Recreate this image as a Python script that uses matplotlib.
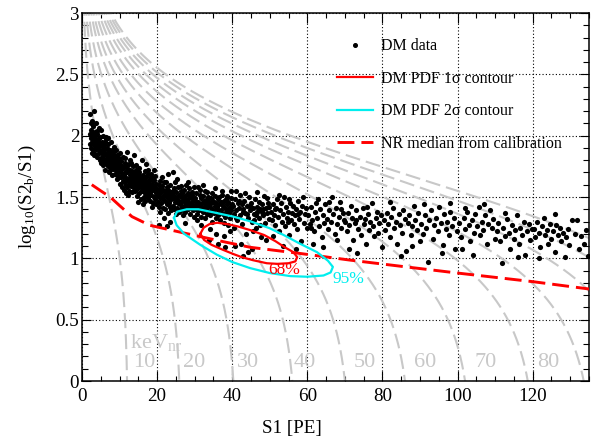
import numpy as np
import matplotlib
matplotlib.use("Agg")
import matplotlib.pyplot as plt
from matplotlib.lines import Line2D
from matplotlib.ticker import MultipleLocator

plt.rcParams['font.family'] = ['Liberation Serif', 'DejaVu Serif']
plt.rcParams['mathtext.fontset'] = 'custom'
plt.rcParams['mathtext.rm'] = 'Liberation Serif'
plt.rcParams['mathtext.it'] = 'Liberation Serif:italic'

# ---------------- data ----------------
DM_POINTS = """
2.1,2.18 2.3,2.05 2.4,1.98 2.2,1.93 2.6,2.12 2.5,1.90 2.8,2.02 2.7,1.95 3.0,2.08 2.9,1.88 3.1,1.99 3.3,2.20
3.2,1.92 3.4,1.85 3.5,2.03 3.6,1.96 3.8,1.89 3.7,2.10 3.9,1.94 4.0,1.83 4.1,2.01 4.2,1.91 4.3,1.97 4.4,1.86
4.5,2.06 4.6,1.88 4.7,1.93 4.8,1.80 4.9,1.99 5.0,1.87 2.4,2.10 2.9,1.97 3.4,1.95 3.6,1.90 4.1,1.95 4.4,1.92
2.7,1.86 3.1,1.84 3.9,2.04 4.8,1.94 2.2,2.01 3.3,2.00 4.6,1.98 5.0,1.92
5.1,1.78 5.2,1.95 5.3,1.88 5.4,1.83 5.5,2.00 5.6,1.91 5.7,1.76 5.8,1.86 5.9,1.93 6.0,1.80 6.1,1.89 6.2,1.72
6.3,1.97 6.4,1.84 6.5,1.78 6.6,1.90 6.7,1.82 6.8,1.75 6.9,1.87 7.0,1.93 7.1,1.79 7.2,1.70 7.3,1.85 7.4,1.81
7.5,1.88 7.6,1.74 7.7,1.83 7.8,1.95 7.9,1.77 8.0,1.68 8.1,1.86 8.2,1.80 8.3,1.73 8.4,1.90 8.5,1.78 8.6,1.84
8.7,1.69 8.8,1.76 8.9,1.82 9.0,1.88 9.1,1.72 9.2,1.79 9.3,1.65 9.4,1.84 9.5,1.75 9.6,1.70 9.7,1.81 9.8,1.77
9.9,1.66 10.0,1.86 5.3,1.81 5.8,1.79 6.2,1.93 6.6,1.77 7.1,1.86 7.5,1.72 8.0,1.81 8.4,1.76 8.9,1.74 9.4,1.68
5.6,1.85 6.9,1.80 7.8,1.79 8.6,1.91 9.7,1.73 6.4,1.99 7.3,1.77 9.1,1.83 5.0,2.05 6.0,1.95 7.0,1.98 8.2,1.87 9.8,1.82
10.1,1.72 10.2,1.61 10.3,1.79 10.5,1.66 10.6,1.75 10.7,1.58 10.8,1.69 10.9,1.83 10.4,1.70 10.95,1.63 10.25,1.76 10.65,1.68
11.0,1.74 11.1,1.62 11.2,1.69 11.3,1.56 11.4,1.78 11.5,1.66 11.6,1.71 11.7,1.60 11.8,1.75 11.9,1.64 11.45,1.82 11.25,1.67
12.0,1.70 12.1,1.58 12.2,1.65 12.3,1.73 12.4,1.61 12.5,1.77 12.6,1.55 12.7,1.68 12.8,1.63 12.9,1.72 12.35,1.52 12.65,1.80
13.0,1.66 13.1,1.59 13.2,1.71 13.3,1.64 13.4,1.54 13.5,1.69 13.6,1.75 13.7,1.61 13.8,1.57 13.9,1.67 13.45,1.62 13.15,1.78
14.0,1.60 14.1,1.69 14.2,1.55 14.3,1.65 14.4,1.72 14.5,1.58 14.6,1.63 14.7,1.51 14.8,1.68 14.9,1.61 14.35,1.76 14.55,1.66
15.0,1.57 15.1,1.64 15.2,1.70 15.3,1.53 15.4,1.62 15.5,1.67 15.6,1.59 15.7,1.48 15.8,1.65 15.9,1.56 15.25,1.74 15.75,1.61
16.0,1.63 16.1,1.55 16.2,1.68 16.3,1.59 16.4,1.50 16.5,1.64 16.6,1.57 16.7,1.71 16.8,1.53 16.9,1.61 16.35,1.66 16.75,1.47
17.0,1.58 17.1,1.66 17.2,1.52 17.3,1.62 17.4,1.56 17.5,1.69 17.6,1.49 17.7,1.60 17.8,1.54 17.9,1.64 17.45,1.72 17.25,1.57
18.0,1.55 18.1,1.61 18.2,1.47 18.3,1.58 18.4,1.66 18.5,1.52 18.6,1.60 18.7,1.56 18.8,1.45 18.9,1.63 18.45,1.69 18.15,1.53
19.0,1.59 19.1,1.50 19.2,1.56 19.3,1.64 19.4,1.48 19.5,1.57 19.6,1.53 19.7,1.61 19.8,1.44 19.9,1.55 19.35,1.67 19.65,1.51
15.9,1.80 13.8,1.84 17.1,1.77 19.2,1.72 18.6,1.42 16.2,1.44 11.6,1.53 14.9,1.46 11.9,1.87
20.1,1.55 20.2,1.46 20.4,1.60 20.5,1.51 20.6,1.42 20.7,1.57 20.8,1.49 20.9,1.63 20.3,1.53 20.65,1.38
21.0,1.54 21.1,1.45 21.3,1.59 21.4,1.50 21.5,1.41 21.6,1.56 21.7,1.48 21.8,1.62 21.9,1.52 21.25,1.66
22.0,1.47 22.1,1.55 22.2,1.40 22.4,1.51 22.5,1.58 22.6,1.44 22.7,1.53 22.8,1.37 22.9,1.49 22.35,1.62
23.0,1.56 23.1,1.46 23.2,1.52 23.4,1.42 23.5,1.60 23.6,1.48 23.7,1.54 23.8,1.39 23.9,1.50 23.25,1.45
24.0,1.53 24.1,1.43 24.3,1.49 24.4,1.57 24.5,1.40 24.6,1.51 24.7,1.46 24.8,1.62 24.9,1.36 24.25,1.55
25.0,1.48 25.1,1.54 25.2,1.41 25.4,1.50 25.5,1.45 25.6,1.58 25.7,1.38 25.8,1.52 25.9,1.47 25.3,1.65
26.0,1.44 26.1,1.51 26.3,1.39 26.4,1.55 26.5,1.47 26.6,1.42 26.7,1.53 26.8,1.35 26.9,1.49 26.25,1.59
27.0,1.50 27.1,1.43 27.2,1.56 27.4,1.46 27.5,1.38 27.6,1.52 27.7,1.44 27.8,1.60 27.9,1.41 27.35,1.48
28.0,1.47 28.1,1.53 28.3,1.40 28.4,1.49 28.5,1.44 28.6,1.57 28.7,1.36 28.8,1.51 28.9,1.45 28.25,1.62
29.0,1.42 29.1,1.50 29.2,1.46 29.4,1.54 29.5,1.39 29.6,1.48 29.7,1.43 29.8,1.58 29.9,1.34 29.3,1.52
23.0,1.69 24.3,1.70 20.4,1.27 22.6,1.26 23.4,1.30 21.8,1.33 27.5,1.29
30.1,1.47 30.3,1.40 30.4,1.53 30.5,1.36 30.7,1.44 30.8,1.58 30.9,1.42 30.2,1.49 30.6,1.31
31.0,1.46 31.2,1.39 31.3,1.52 31.5,1.43 31.6,1.34 31.7,1.49 31.9,1.41 31.4,1.56 31.8,1.27
32.0,1.45 32.1,1.51 32.3,1.38 32.4,1.47 32.6,1.42 32.7,1.55 32.8,1.33 32.9,1.44 32.2,1.60
33.0,1.40 33.2,1.48 33.3,1.36 33.5,1.50 33.6,1.43 33.7,1.15 33.8,1.46 33.9,1.38 33.4,1.54
34.0,1.44 34.1,1.35 34.3,1.49 34.4,1.41 34.6,1.53 34.7,1.30 34.8,1.46 34.9,1.39 34.2,1.24
35.0,1.47 35.2,1.37 35.3,1.43 35.5,1.51 35.6,1.33 35.7,1.45 35.9,1.40 35.4,1.57 35.8,1.20
36.0,1.42 36.1,1.48 36.3,1.35 36.4,1.44 36.6,1.50 36.7,1.38 36.8,1.31 36.9,1.46 36.2,1.12
37.0,1.39 37.2,1.45 37.3,1.52 37.5,1.36 37.6,1.43 37.7,1.29 37.9,1.47 37.4,1.55 37.8,1.18
38.0,1.41 38.1,1.34 38.3,1.48 38.4,1.38 38.6,1.44 38.7,1.51 38.8,1.27 38.9,1.40 38.2,1.09
39.0,1.46 39.2,1.37 39.3,1.42 39.5,1.33 39.6,1.49 39.7,1.39 39.9,1.44 39.4,1.22 39.8,1.55
40.2,1.43 40.5,1.36 40.8,1.48 41.0,1.39 41.3,1.31 41.5,1.45 41.8,1.41 42.0,1.52 42.2,1.35 42.5,1.44 42.7,1.28
43.0,1.40 43.2,1.47 43.5,1.37 43.7,1.20 44.0,1.43 44.2,1.33 44.5,1.50 44.7,1.39 45.0,1.45 45.2,1.30 45.5,1.41
45.7,1.36 46.0,1.48 46.2,1.25 46.5,1.42 46.7,1.38 47.0,1.33 47.2,1.46 47.5,1.40 47.7,1.17 48.0,1.44 48.2,1.35
48.5,1.51 48.7,1.29 49.0,1.41 49.2,1.37 49.5,1.45 49.7,1.32 40.4,1.25 41.1,1.55 42.4,1.12 43.4,1.53 44.1,1.05
45.6,1.22 46.6,1.54 47.4,1.27 48.9,1.15 49.3,1.49 40.9,1.33 42.9,1.38 44.8,1.43 46.3,1.35 48.3,1.40 41.7,1.47
43.9,1.36 45.9,1.31 47.9,1.38 49.9,1.42 43.0,1.02 45.3,1.08 40.7,1.10
50.2,1.38 50.5,1.31 50.8,1.44 51.1,1.35 51.4,1.27 51.6,1.41 51.9,1.48 52.2,1.34 52.4,1.22 52.7,1.39 53.0,1.45
53.2,1.30 53.5,1.36 53.8,1.50 54.0,1.26 54.3,1.42 54.6,1.33 54.8,1.38 55.1,1.19 55.4,1.45 55.7,1.31 55.9,1.37
56.2,1.43 56.5,1.28 56.8,1.35 57.0,1.40 57.3,1.24 57.6,1.47 57.8,1.32 58.1,1.38 58.4,1.14 58.7,1.43 59.0,1.29
59.3,1.36 59.6,1.41 59.8,1.25 50.9,1.18 53.6,1.10 56.9,1.08 52.5,1.52 55.0,1.48 58.9,1.50 51.3,1.40 54.9,1.30 57.5,1.36
60.2,1.35 60.6,1.28 61.0,1.42 61.3,1.31 61.7,1.22 62.0,1.38 62.4,1.45 62.7,1.33 63.1,1.26 63.4,1.40 63.8,1.17
64.1,1.35 64.5,1.29 64.8,1.44 65.2,1.32 65.5,1.24 65.9,1.39 66.2,1.30 66.6,1.50 66.9,1.36 67.3,1.20 67.6,1.41
68.0,1.28 68.3,1.34 68.7,1.46 69.0,1.25 69.4,1.37 69.7,1.31 61.5,1.12 64.3,1.09 67.9,1.15 62.9,1.48 65.7,1.46
68.9,1.40 60.9,1.25
70.1,1.30 70.5,1.22 70.8,1.37 71.2,1.27 71.5,1.43 71.9,1.33 72.2,1.15 72.6,1.29 72.9,1.39 73.3,1.04 73.6,1.24
74.0,1.34 74.3,1.19 74.7,1.41 75.0,1.28 75.4,1.32 75.7,1.12 76.1,1.36 76.4,1.23 76.8,1.30 77.1,1.45 77.5,1.26
77.8,1.18 78.2,1.33 78.5,1.38 78.9,1.21 79.2,1.29 79.6,1.35 79.9,1.09 71.0,1.08 75.9,1.42 73.0,1.31
80.3,1.31 80.7,1.23 81.1,1.37 81.5,1.28 81.9,1.17 82.3,1.34 82.7,1.41 83.1,1.25 83.5,1.30 83.9,1.12 84.3,1.36
84.7,1.27 85.1,1.21 85.5,1.39 85.9,1.32 86.3,1.06 86.7,1.29 87.1,1.35 87.5,1.19 87.9,1.26 88.3,1.43 88.7,1.31
89.1,1.23 89.5,1.37 89.9,1.14 82.0,1.46 84.9,1.02 88.0,1.10
90.3,1.28 90.8,1.20 91.2,1.35 91.7,1.25 92.1,0.97 92.5,1.31 92.9,1.39 93.4,1.16 93.8,1.27 94.2,1.33 94.7,1.22
95.1,1.42 95.5,1.29 96.0,1.11 96.4,1.36 96.8,1.24 97.3,1.30 97.7,1.19 98.1,1.38 98.6,1.26 99.0,1.33 99.4,1.08
99.8,1.22 91.0,1.44 95.9,1.04 97.9,1.45
100.3,1.29 100.8,1.17 101.2,1.08 101.6,1.33 102.1,1.24 102.5,1.38 103.0,1.27 103.4,1.14 103.8,1.31 104.3,1.21
104.7,1.36 105.2,1.26 105.6,1.42 106.0,1.19 106.5,1.30 106.9,1.23 107.4,1.35 107.8,1.12 108.2,1.28 108.7,1.39
109.1,1.25 109.5,1.32 109.9,1.16 104.0,1.03 107.0,1.44 101.9,1.41
110.4,1.22 110.9,1.29 111.3,1.14 111.8,0.96 112.2,1.25 112.7,1.18 113.1,1.32 113.6,1.21 114.0,1.08 114.5,1.27
114.9,1.16 115.4,1.23 115.8,1.35 116.3,1.12 116.7,1.25 117.2,1.19 117.6,1.30 118.0,1.03 118.5,1.22 118.9,1.28
119.4,1.15 119.8,1.24 112.5,1.37 116.0,1.01
120.3,1.24 120.7,1.17 121.1,1.30 121.6,1.21 122.0,1.09 122.4,1.26 122.9,1.33 123.3,1.19 123.7,1.23 124.2,1.12
124.6,1.28 125.0,1.16 125.5,1.22 125.9,1.05 126.3,1.27 126.8,1.19 127.2,1.25 127.6,1.14 128.1,1.21 128.5,1.01
128.9,1.17 129.4,1.24 129.8,1.11 130.6,1.31 131.2,1.20 131.9,1.31 132.4,1.08 133.0,1.18 133.6,1.12 134.2,1.23
134.7,1.02 126.0,1.36 121.8,1.00
"""
_pairs = np.array([[float(v) for v in tok.split(',')] for tok in DM_POINTS.split()])
dm_s1 = _pairs[:, 0]
dm_logratio = _pairs[:, 1]

# 1 sigma (68%) contour of the DM PDF
c68_s1 = [31.5, 32.4, 34.0, 36.0, 38.5, 41.5, 44.8, 48.5, 51.5, 54.0, 56.3, 57.3,
          56.8, 55.0, 52.0, 49.2, 45.5, 42.5, 40.3, 37.5, 34.5, 32.5, 31.5]
c68_log = [1.20, 1.25, 1.28, 1.29, 1.28, 1.26, 1.23, 1.19, 1.14, 1.09, 1.05, 1.01,
           0.975, 0.96, 0.955, 0.96, 0.985, 1.01, 1.035, 1.07, 1.11, 1.15, 1.20]
# 2 sigma (95%) contour
c95_s1 = [24.5, 25.3, 27.9, 31.0, 35.0, 40.3, 45.0, 50.0, 53.7, 58.0, 62.6, 65.5, 66.8,
          66.2, 64.3, 60.0, 55.5, 50.0, 44.8, 40.0, 35.9, 31.5, 27.2, 25.2, 24.5]
c95_log = [1.33, 1.38, 1.40, 1.40, 1.375, 1.34, 1.30, 1.245, 1.19, 1.12, 1.05, 0.98, 0.93,
           0.885, 0.86, 0.85, 0.855, 0.88, 0.92, 0.97, 1.03, 1.11, 1.20, 1.27, 1.33]

# NR median from calibration
nr_s1 = [2.6, 5.0, 7.5, 10.0, 13.3, 18.0, 23.0, 29.6, 37.0, 44.8, 58.0, 71.5, 85.0, 100.0, 120.0, 135.0]
nr_log = [1.60, 1.55, 1.50, 1.43, 1.34, 1.27, 1.235, 1.19, 1.14, 1.09, 1.04, 0.985, 0.935, 0.88, 0.81, 0.75]

# iso-energy lines (keVnr): S1 where S2b = S1, and S2b/S1 gain ratio
energies_kev = [10, 20, 30, 40, 50, 60, 70, 80, 90, 100, 110, 120]
energy_s1_at_unity = [12.0, 25.9, 40.3, 56.0, 70.0, 86.0, 102.0, 118.7, 133.6, 148.0, 162.0, 175.0]
gain_ratio = 45.0
energy_labels = ['10', '20', '30', '40', '50', '60', '70', '80']
energy_label_s1 = [13.6, 26.9, 41.3, 56.3, 72.3, 88.3, 104.5, 121.3]

# ---------------- figure ----------------
W, H = 598, 446
fig = plt.figure(figsize=(W / 100, H / 100), dpi=100)
ax = fig.add_axes([82 / W, (H - 381) / H, 507 / W, 368 / H])
ax.set_xlim(0, 135)
ax.set_ylim(0, 3)

gray = '#c8c8c8'
for s10 in energy_s1_at_unity:
    A = s10 * (1 + gain_ratio) / gain_ratio
    t_top = gain_ratio * A / (10 ** 3.1 + gain_ratio)
    t = np.linspace(t_top, A * 0.9995, 800)
    y = np.log10(gain_ratio * (A - t) / t)
    ln, = ax.plot(t, y, color=gray, lw=1.5, zorder=1)
    ln.set_dashes((7.2, 2.9))

for lab, xs in zip(energy_labels, energy_label_s1):
    ax.text(xs, 0.147, lab, color=gray, fontsize=16, ha='left', va='center', zorder=1.2)
ax.text(12.8, 0.27, r'keV$_{\mathrm{nr}}$', color=gray, fontsize=16, ha='left', va='baseline', zorder=1.2)

ax.grid(True, which='major', color='black', linestyle=(0, (1, 2)), lw=0.8, zorder=1.5)
ax.set_axisbelow(True)

ax.scatter(dm_s1, dm_logratio, s=14, color='black', linewidths=0, zorder=3)

nr_line, = ax.plot(nr_s1, nr_log, color='red', lw=2.1, zorder=4)
nr_line.set_dashes((5.8, 2.4))

ax.plot(c95_s1, c95_log, color='#00eeee', lw=1.6, zorder=5)
ax.plot(c68_s1, c68_log, color='red', lw=1.6, zorder=5)
ax.text(53.9, 0.905, '68%', color='red', fontsize=12.5, ha='center', va='center', zorder=6)
ax.text(70.9, 0.835, '95%', color='#00eeee', fontsize=12.5, ha='center', va='center', zorder=6)

# ticks
ax.xaxis.set_major_locator(MultipleLocator(20))
ax.xaxis.set_minor_locator(MultipleLocator(5))
ax.yaxis.set_major_locator(MultipleLocator(0.5))
ax.yaxis.set_minor_locator(MultipleLocator(0.1))
ax.tick_params(which='both', direction='in', top=True, right=True, width=0.8, labelsize=13.7)
ax.tick_params(axis='x', which='major', length=7.2, pad=5)
ax.tick_params(axis='x', which='minor', length=3.6)
ax.tick_params(axis='y', which='major', length=6.5, pad=2)
ax.tick_params(axis='y', which='minor', length=4.3)
ax.yaxis.set_major_formatter(matplotlib.ticker.FuncFormatter(lambda v, p: ('%g' % v)))
ax.xaxis.set_major_formatter(matplotlib.ticker.FuncFormatter(lambda v, p: ('%g' % v)))
for sp in ax.spines.values():
    sp.set_linewidth(1.1)

ax.set_xlabel('S1 [PE]', fontsize=13.7)
ax.xaxis.set_label_coords(0.414, -0.105)
ax.set_ylabel(r'log$_{10}$(S2$_{\mathrm{b}}$/S1)', fontsize=13.7)
ax.yaxis.set_label_coords(-0.087, 0.5)

# legend
h_dm = Line2D([], [], ls='none', marker='o', ms=2.6, color='black')
h_68 = Line2D([], [], color='red', lw=1.6)
h_95 = Line2D([], [], color='#00eeee', lw=1.6)
h_nr = Line2D([], [], color='red', lw=2.1)
h_nr.set_dashes((5.8, 2.4))
ax.legend([h_dm, h_68, h_95, h_nr],
          ['DM data', r'DM PDF 1σ contour', r'DM PDF 2σ contour', 'NR median from calibration'],
          loc='upper left', bbox_to_anchor=(0.503, 0.931), frameon=False, fontsize=11.5,
          borderpad=0, borderaxespad=0, handlelength=2.25, handletextpad=0.5, labelspacing=1.03)

fig.savefig('out.png', dpi=100)
